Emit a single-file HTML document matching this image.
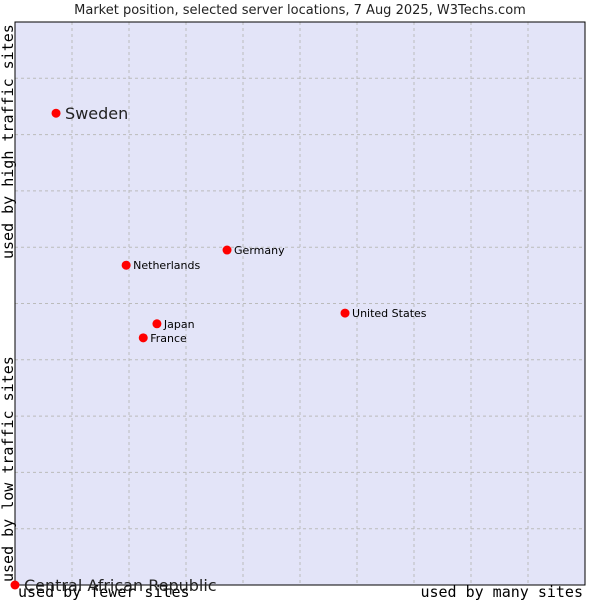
<!DOCTYPE html>
<html><head><meta charset="utf-8"><style>
body{margin:0;background:#fff;}
svg{display:block;font-family:"DejaVu Sans","Liberation Sans",sans-serif;}
</style></head><body>
<svg id="chart" width="600" height="600">
<text x="300" y="14" text-anchor="middle" font-size="13" fill="#222">Market position, selected server locations, 7 Aug 2025, W3Techs.com</text>
<rect x="15" y="22" width="570" height="563" fill="#e3e4f8"/>
<g id="grid"></g>
<rect x="15" y="22" width="570" height="563" fill="none" stroke="#000" stroke-width="1"/>
<text transform="translate(13,259) rotate(-90)" font-family="'DejaVu Sans Mono','Liberation Mono',monospace" font-size="15" fill="#000">used by high traffic sites</text>
<text transform="translate(13,582) rotate(-90)" font-family="'DejaVu Sans Mono','Liberation Mono',monospace" font-size="15" fill="#000">used by low traffic sites</text>
<text x="18" y="597" font-family="'DejaVu Sans Mono','Liberation Mono',monospace" font-size="15" fill="#000">used by fewer sites</text>
<text x="583" y="597" text-anchor="end" font-family="'DejaVu Sans Mono','Liberation Mono',monospace" font-size="15" fill="#000">used by many sites</text>
<g id="marks"></g>
</svg>
<script>
const categories=["Sweden","Netherlands","Germany","United States","Japan","France","Central African Republic"];
const xValues=[0.72,1.95,3.72,5.79,2.49,2.25,0];
const yValues=[8.38,5.68,5.95,4.83,4.64,4.39,0];
const bigLabel=[true,false,false,false,false,false,true];
const gridTicks=[1,2,3,4,5,6,7,8,9];
const NS="http://www.w3.org/2000/svg";
const X0=15,X1=585,Y0=585,Y1=22;
const xs=v=>X0+v/10*(X1-X0);
const ys=v=>Y0-v/10*(Y0-Y1);
const grid=document.getElementById('grid');
gridTicks.forEach(t=>{
  const l=document.createElementNS(NS,'line');
  l.setAttribute('x1',xs(t));l.setAttribute('x2',xs(t));l.setAttribute('y1',Y1);l.setAttribute('y2',Y0);
  l.setAttribute('stroke','#bbb');l.setAttribute('stroke-dasharray','3,3');
  
  
  grid.appendChild(l);
  const h=document.createElementNS(NS,'line');
  h.setAttribute('x1',X0);h.setAttribute('x2',X1);h.setAttribute('y1',ys(t));h.setAttribute('y2',ys(t));
  h.setAttribute('stroke','#bbb');h.setAttribute('stroke-dasharray','3,3');
  
  
  grid.appendChild(h);
});
const marks=document.getElementById('marks');
categories.forEach((c,i)=>{
  const cx=xs(xValues[i]),cy=ys(yValues[i]);
  const p=document.createElementNS(NS,'circle');
  p.setAttribute('cx',cx);p.setAttribute('cy',cy);p.setAttribute('r',4.5);
  p.setAttribute('fill','#f00');
  
  
  marks.appendChild(p);
  const t=document.createElementNS(NS,'text');
  t.setAttribute('x',cx+(bigLabel[i]?9:7));
  t.setAttribute('y',cy+(bigLabel[i]?6:4));
  t.setAttribute('font-size',bigLabel[i]?'16':'11');
  t.setAttribute('fill',bigLabel[i]?'#222':'#000');
  t.textContent=c;
  
  
  marks.appendChild(t);
});
</script>
</body></html>
